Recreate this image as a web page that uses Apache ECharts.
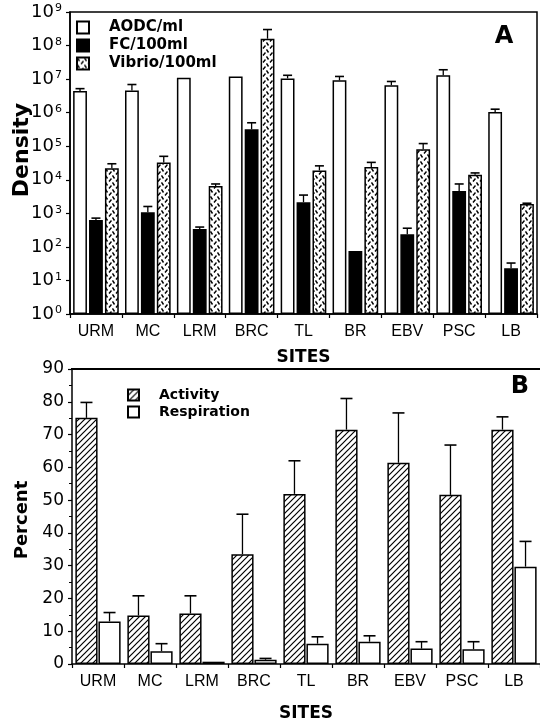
<!DOCTYPE html>
<html>
<head>
<meta charset="utf-8">
<script src="https://cdn.jsdelivr.net/npm/echarts@6/dist/echarts.min.js"></script>
<style>
  html, body { margin: 0; padding: 0; background: #fff; }
  #chart { width: 540px; height: 723px; }
</style>
</head>
<body>
<div id="chart"></div>
<script>
const sites = ['URM', 'MC', 'LRM', 'BRC', 'TL', 'BR', 'EBV', 'PSC', 'LB'];

// panel A (log scale) — bar value and top of error bar
const aodc = [4.4e6, 4.6e6, 1.1e7, 1.2e7, 1.05e7, 9.2e6, 6.6e6, 1.3e7, 1.05e6];
const aodcHi = [5.2e6, 6.9e6, null, null, 1.3e7, 1.2e7, 8.5e6, 1.9e7, 1.27e6];
const fc = [630, 1080, 340, 3.2e5, 2150, 75, 240, 4600, 23];
const fcHi = [720, 1600, 390, 5.0e5, 3500, null, 360, 7500, 33];
const vibrio = [2.2e4, 3.3e4, 6500, 1.6e8, 1.9e4, 2.4e4, 8.1e4, 1.4e4, 1900];
const vibrioHi = [3.0e4, 5.0e4, 7500, 3.0e8, 2.6e4, 3.3e4, 1.2e5, 1.6e4, 2000];

// panel B (percent)
const activity = [75.1, 14.8, 15.4, 33.5, 51.9, 71.5, 61.4, 51.6, 71.5];
const activityHi = [79.8, 20.8, 20.8, 45.7, 62, 81, 76.6, 66.8, 75.4];
const respiration = [13, 3.9, 0.7, 1.3, 6.2, 6.8, 4.7, 4.5, 29.7];
const respirationHi = [15.7, 6.2, null, 1.7, 8.3, 8.6, 6.8, 6.8, 37.4];

const fontNum = 'DejaVu Sans';
const fontCat = 'Liberation Sans';

function makePattern(draw, size) {
  const c = document.createElement('canvas');
  c.width = size; c.height = size;
  const ctx = c.getContext('2d');
  ctx.fillStyle = '#fff';
  ctx.fillRect(0, 0, size, size);
  ctx.strokeStyle = '#000';
  ctx.lineWidth = 1.2;
  draw(ctx);
  return { image: c, repeat: 'repeat' };
}

// hatched "/" lines
const hatch = makePattern(ctx => {
  ctx.beginPath();
  ctx.moveTo(-1, 7); ctx.lineTo(7, -1);
  ctx.moveTo(-2, 2); ctx.lineTo(2, -2);
  ctx.moveTo(4, 8); ctx.lineTo(8, 4);
  ctx.stroke();
}, 6);

// small zigzag dashes
const dashes = makePattern(ctx => {
  ctx.lineWidth = 1.4;
  ctx.beginPath();
  ctx.moveTo(0.5, 0.5); ctx.lineTo(2.5, 3.5);
  ctx.moveTo(4, 6.5); ctx.lineTo(6.5, 3.5);
  ctx.stroke();
}, 7);

function errSeries(lo, hi, idx, n, catGap, barGap, cap, axisIdx) {
  const data = [];
  lo.forEach((v, i) => { if (hi[i] != null) data.push([i, v, hi[i]]); });
  return {
    type: 'custom',
    xAxisIndex: axisIdx,
    yAxisIndex: axisIdx,
    silent: true,
    z: 5,
    data: data,
    renderItem: (params, api) => {
      const i = api.value(0);
      const band = api.size([1, 0], [i, 1])[0];
      const remained = band * (1 - catGap);
      const bw = remained / (n + (n - 1) * barGap);
      const total = n * bw + (n - 1) * bw * barGap;
      const p0 = api.coord([i, api.value(1)]);
      const p1 = api.coord([i, api.value(2)]);
      const cx = p0[0] - total / 2 + idx * bw * (1 + barGap) + bw / 2;
      return {
        type: 'group',
        children: [
          { type: 'line', shape: { x1: cx, y1: p0[1], x2: cx, y2: p1[1] }, style: { stroke: '#000', lineWidth: 1.3 } },
          { type: 'line', shape: { x1: cx - cap / 2, y1: p1[1], x2: cx + cap / 2, y2: p1[1] }, style: { stroke: '#000', lineWidth: 1.6 } }
        ]
      };
    }
  };
}

const axisLine = { lineStyle: { color: '#000', width: 1.5 } };
const barBorder = { borderColor: '#000', borderWidth: 1.5 };

const chart = echarts.init(document.getElementById('chart'), null, { renderer: 'canvas' });

chart.setOption({
  backgroundColor: '#fff',
  animation: false,
  grid: [
    { left: 70, width: 467, top: 12, height: 302, show: true, borderColor: '#000', borderWidth: 1.5, backgroundColor: 'transparent' },
    { left: 72, width: 468, top: 369, height: 303 }
  ],
  legend: [
    {
      data: ['AODC/ml', 'FC/100ml', 'Vibrio/100ml'],
      orient: 'vertical', left: 76, top: 20, padding: 0, icon: 'rect',
      itemWidth: 12, itemHeight: 12, itemGap: 3,
      textStyle: { fontFamily: fontNum, fontWeight: 'bold', fontSize: 15, color: '#000', lineHeight: 12, padding: [0, 0, 0, 15] }
    },
    {
      data: ['Activity', 'Respiration'],
      orient: 'vertical', left: 127, top: 388, padding: 0, icon: 'rect',
      itemWidth: 11, itemHeight: 11, itemGap: 3,
      textStyle: { fontFamily: fontNum, fontWeight: 'bold', fontSize: 14, color: '#000', lineHeight: 11, padding: [0, 0, 0, 15] }
    }
  ],
  xAxis: [
    {
      type: 'category', gridIndex: 0, data: sites,
      axisLine: axisLine,
      axisTick: { show: true, length: 4, lineStyle: { color: '#000', width: 1.2 } },
      axisLabel: { color: '#000', fontFamily: fontCat, fontSize: 16, margin: 10 },
      name: 'SITES', nameLocation: 'middle', nameGap: 35,
      nameTextStyle: { fontFamily: fontNum, fontWeight: 'bold', fontSize: 17, color: '#000' }
    },
    {
      type: 'category', gridIndex: 1, data: sites,
      axisLine: axisLine,
      axisTick: { show: true, length: 4, lineStyle: { color: '#000', width: 1.2 } },
      axisLabel: { color: '#000', fontFamily: fontCat, fontSize: 16, margin: 10 },
      name: 'SITES', nameLocation: 'middle', nameGap: 41,
      nameTextStyle: { fontFamily: fontNum, fontWeight: 'bold', fontSize: 17, color: '#000' }
    }
  ],
  yAxis: [
    {
      type: 'log', gridIndex: 0, logBase: 10, min: 1, max: 1e9, interval: 1,
      axisLine: { show: true, lineStyle: { color: '#000', width: 1.5 } },
      axisTick: { show: true, length: 4, lineStyle: { color: '#000', width: 1.2 } },
      splitLine: { show: false },
      axisLabel: {
        margin: 8,
        formatter: v => '{b|10}{s|' + Math.round(Math.log10(v)) + '}',
        rich: {
          b: { fontFamily: fontNum, fontSize: 18, color: '#000' },
          s: { fontFamily: fontNum, fontSize: 11, color: '#000', verticalAlign: 'top', padding: [0, 0, 0, 1] }
        }
      }
    },
    {
      type: 'value', gridIndex: 1, min: 0, max: 90, interval: 10,
      axisLine: { show: true, lineStyle: { color: '#000', width: 1.5 } },
      axisTick: { show: true, length: 4, lineStyle: { color: '#000', width: 1.2 } },
      minorTick: { show: true, splitNumber: 2, length: 3, lineStyle: { color: '#000', width: 1 } },
      splitLine: { show: false },
      axisLabel: { color: '#000', fontFamily: fontNum, fontSize: 17, margin: 8 }
    }
  ],
  graphic: [
    { type: 'text', x: 22, y: 150, rotation: Math.PI / 2, style: { text: 'Density', font: 'bold 22px "DejaVu Sans"', fill: '#000', textAlign: 'center', textVerticalAlign: 'middle' } },
    { type: 'text', x: 22, y: 520, rotation: Math.PI / 2, style: { text: 'Percent', font: 'bold 18px "DejaVu Sans"', fill: '#000', textAlign: 'center', textVerticalAlign: 'middle' } },
    { type: 'text', x: 504, y: 37, style: { text: 'A', font: 'bold 24px "DejaVu Sans"', fill: '#000', textAlign: 'center', textVerticalAlign: 'middle' } },
    { type: 'text', x: 520, y: 387, style: { text: 'B', font: 'bold 24px "DejaVu Sans"', fill: '#000', textAlign: 'center', textVerticalAlign: 'middle' } },
    { type: 'line', shape: { x1: 71, y1: 369, x2: 540, y2: 369 }, style: { stroke: '#000', lineWidth: 1.8 } }
  ],
  series: [
    { name: 'AODC/ml', type: 'bar', xAxisIndex: 0, yAxisIndex: 0, data: aodc, barCategoryGap: '12%', barGap: '15%', itemStyle: Object.assign({ color: '#fff' }, barBorder) },
    { name: 'FC/100ml', type: 'bar', xAxisIndex: 0, yAxisIndex: 0, data: fc, itemStyle: Object.assign({ color: '#000' }, barBorder) },
    { name: 'Vibrio/100ml', type: 'bar', xAxisIndex: 0, yAxisIndex: 0, data: vibrio, itemStyle: Object.assign({ color: dashes }, barBorder) },
    errSeries(aodc, aodcHi, 0, 3, 0.12, 0.15, 9, 0),
    errSeries(fc, fcHi, 1, 3, 0.12, 0.15, 9, 0),
    errSeries(vibrio, vibrioHi, 2, 3, 0.12, 0.15, 9, 0),
    { name: 'Activity', type: 'bar', xAxisIndex: 1, yAxisIndex: 1, data: activity, barCategoryGap: '13%', barGap: '4%', itemStyle: Object.assign({ color: hatch }, barBorder) },
    { name: 'Respiration', type: 'bar', xAxisIndex: 1, yAxisIndex: 1, data: respiration, itemStyle: Object.assign({ color: '#fff' }, barBorder) },
    errSeries(activity, activityHi, 0, 2, 0.13, 0.04, 12, 1),
    errSeries(respiration, respirationHi, 1, 2, 0.13, 0.04, 12, 1)
  ]
});
</script>
</body>
</html>
